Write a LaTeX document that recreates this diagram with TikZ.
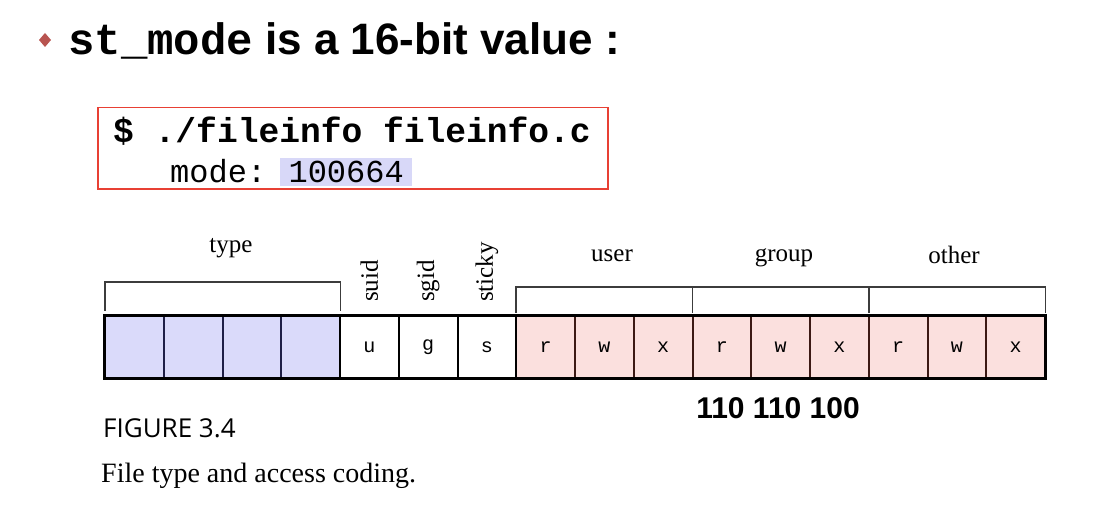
\documentclass[tikz,border=0pt]{standalone}
\usepackage{fontspec}
\setmainfont{Liberation Serif}
\newfontfamily\arialfont{Liberation Sans}
\newfontfamily\courfont{Liberation Mono}
\newfontfamily\figfont{Open Sans}
\definecolor{typefill}{RGB}{218,218,250}
\definecolor{permfill}{RGB}{251,224,222}
\definecolor{hlfill}{RGB}{216,216,248}
\definecolor{bulletred}{RGB}{184,84,80}
\definecolor{boxred}{RGB}{232,64,52}
\definecolor{navyline}{RGB}{30,30,70}
\definecolor{brownline}{RGB}{60,25,20}
\definecolor{brkgray}{RGB}{60,60,60}
\tikzset{
  cellbox/.style={minimum width=58.75pt, minimum height=62pt, inner sep=0pt, font=\fontsize{20}{24}\selectfont\courfont},
  typecell/.style={cellbox, fill=typefill},
  permcell/.style={cellbox, fill=permfill},
  flagcell/.style={cellbox, fill=white},
  typediv/.style={draw=navyline, line width=2pt},
  permdiv/.style={draw=brownline, line width=2pt},
  flagdiv/.style={draw=black, line width=2pt},
  bracket/.style={draw=brkgray, line width=1.4pt},
  grplabel/.style={inner sep=0pt, font=\fontsize{25}{29}\selectfont},
  rotlabel/.style={inner sep=0pt, rotate=90, anchor=west, font=\fontsize{25}{29}\selectfont},
}
\begin{document}
\begin{tikzpicture}[x=1pt,y=-1pt]
\useasboundingbox (0,0) rectangle (1102,508);
% bullet and title
\fill[bulletred] (45,33) coordinate (btop) -- (51,40) -- (45,47) -- (39,40) -- cycle;
\node[anchor=base west, inner sep=0pt] (title) at (68,55)
  {\fontsize{44}{52}\selectfont{\courfont\bfseries st\_mode}{\arialfont\bfseries\ is a 16-bit value :}};
% command box
\node[draw=boxred, line width=1.5pt, minimum width=510pt, minimum height=81pt, anchor=north west, inner sep=0pt] (cmdbox) at (97,107) {};
\node[anchor=west, inner sep=0pt] (cmd) at (113,131) {\fontsize{34.6}{40}\selectfont\courfont\bfseries \$ ./fileinfo fileinfo.c};
\node[fill=hlfill, minimum width=132pt, minimum height=28pt, anchor=north west, inner sep=0pt] (modeval) at (280,158) {\fontsize{32}{36}\selectfont\courfont 100664};
\node[anchor=base west, inner sep=0pt] (modelbl) at (170,182) {\fontsize{32}{36}\selectfont\courfont mode:};
% bit cells
\foreach \i in {0,...,3}
  \node[typecell] (c\i) at ({105+58.75*\i+29.375},347) {};
\node[flagcell] (c4) at ({105+58.75*4+29.375},347) {u};
\node[flagcell] (c5) at ({105+58.75*5+29.375},347) {g};
\node[flagcell] (c6) at ({105+58.75*6+29.375},347) {s};
\foreach \i/\t in {7/r,8/w,9/x,10/r,11/w,12/x,13/r,14/w,15/x}
  \node[permcell] (c\i) at ({105+58.75*\i+29.375},347) {\t};
% dividers
\foreach \i in {0,1,2}
  \draw[typediv] (c\i.north east) -- (c\i.south east);
\foreach \i in {3,4,5,6}
  \draw[flagdiv] (c\i.north east) -- (c\i.south east);
\foreach \i in {7,...,14}
  \draw[permdiv] (c\i.north east) -- (c\i.south east);
\draw[line width=3pt] (c0.north west) rectangle (c15.south east);
% brackets
\draw[bracket] ([yshift=5pt]c0.north west) -- ([yshift=34pt]c0.north west) -- ([yshift=34pt]c3.north east) -- ([yshift=5pt]c3.north east);
\draw[bracket] ([yshift=3pt]c7.north west) -- ([yshift=29pt]c7.north west) -- ([yshift=29pt]c15.north east) -- ([yshift=3pt]c15.north east);
\draw[bracket] ([yshift=3pt]c9.north east) -- ([yshift=29pt]c9.north east);
\draw[bracket] ([yshift=3pt]c12.north east) -- ([yshift=29pt]c12.north east);
% labels
\node[grplabel] (ltype) at (231,248) {type};
\node[grplabel] (luser) at (612,256) {user};
\node[grplabel] (lgroup) at (784,258) {group};
\node[grplabel] (lother) at (954,255) {other};
\node[rotlabel] (lsuid) at (c4.center |- 0,302) {suid};
\node[rotlabel] (lsgid) at (c5.center |- 0,302) {sgid};
\node[rotlabel] (lsticky) at (c6.center |- 0,302) {sticky};
\node[inner sep=0pt, font=\fontsize{30}{34}\selectfont\arialfont\bfseries] (bits) at (778,408) {110 110 100};
\node[anchor=base west, inner sep=0pt, font=\fontsize{26}{30}\selectfont\figfont] (fig) at (103,437) {FIGURE 3.4};
\node[anchor=base west, inner sep=0pt, font=\fontsize{28}{32}\selectfont] (cap) at (101,482) {File type and access coding.};
\end{tikzpicture}
\end{document}
